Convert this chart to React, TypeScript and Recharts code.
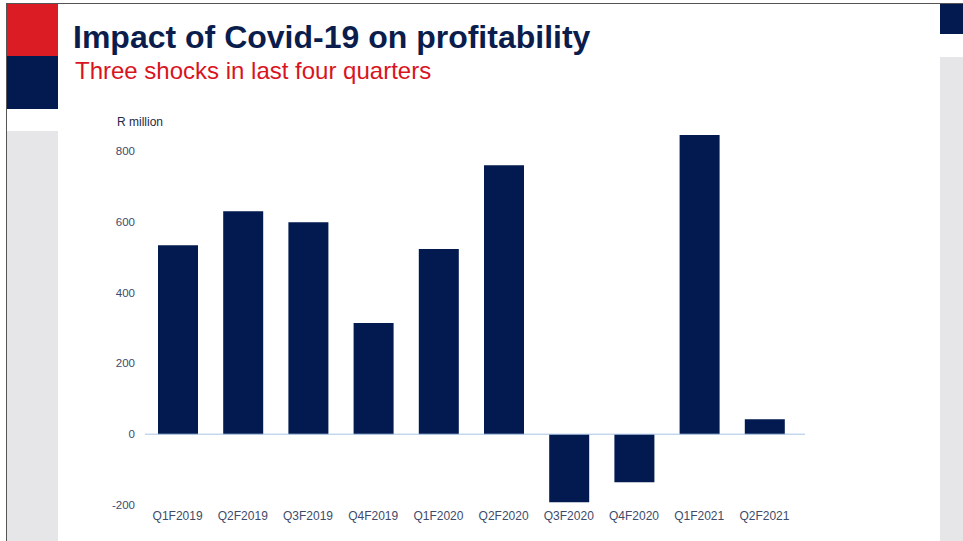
import React from "react";
import { BarChart, Bar, XAxis, YAxis, ReferenceLine } from "recharts";

const quarters = [
  "Q1F2019",
  "Q2F2019",
  "Q3F2019",
  "Q4F2019",
  "Q1F2020",
  "Q2F2020",
  "Q3F2020",
  "Q4F2020",
  "Q1F2021",
  "Q2F2021",
];
const profit = [534, 630, 599, 314, 523, 760, -192, -136, 845, 42];
const yTicks = [-200, 0, 200, 400, 600, 800];

const data = quarters.map((q, i) => ({ q, value: profit[i] }));

const NAVY = "#021a4f";
const FONT = "'Liberation Sans', Arial, sans-serif";

export default function App() {
  return (
    <div
      style={{
        position: "absolute",
        left: 0,
        top: 0,
        width: 963,
        height: 541,
        background: "#fff",
        overflow: "hidden",
        fontFamily: FONT,
      }}
    >
      {/* slide frame */}
      <div style={{ position: "absolute", left: 6, top: 3, width: 957, height: 1, background: "#555" }} />
      <div style={{ position: "absolute", left: 6, top: 3, width: 1, height: 538, background: "#555" }} />
      <div style={{ position: "absolute", left: 7, top: 4, width: 51, height: 52, background: "#dc1c24" }} />
      <div style={{ position: "absolute", left: 7, top: 56, width: 51, height: 53, background: NAVY }} />
      <div style={{ position: "absolute", left: 7, top: 131, width: 51, height: 410, background: "#e6e6e9" }} />
      <div style={{ position: "absolute", left: 940, top: 4, width: 23, height: 30, background: NAVY }} />
      <div style={{ position: "absolute", left: 940, top: 57, width: 23, height: 484, background: "#e6e6e9" }} />

      <div
        style={{
          position: "absolute",
          left: 73,
          top: 21,
          fontSize: 32,
          lineHeight: 1,
          fontWeight: "bold",
          color: "#0b1d4d",
          whiteSpace: "nowrap",
        }}
      >
        Impact of Covid-19 on profitability
      </div>
      <div
        style={{
          position: "absolute",
          left: 75,
          top: 59,
          fontSize: 24,
          lineHeight: 1,
          color: "#d9141e",
          whiteSpace: "nowrap",
        }}
      >
        Three shocks in last four quarters
      </div>
      <div
        style={{
          position: "absolute",
          left: 117,
          top: 115,
          fontSize: 12,
          color: "#1f2a44",
          whiteSpace: "nowrap",
        }}
      >
        R million
      </div>

      <div style={{ position: "absolute", left: 0, top: 0 }}>
        <BarChart
          width={963}
          height={541}
          data={data}
          margin={{ top: 115.6, right: 158, bottom: 6, left: 105 }}
        >
          <XAxis
            dataKey="q"
            axisLine={false}
            tickLine={false}
            tickSize={0}
            tickMargin={6}
            height={30}
            interval={0}
            padding={{ left: 0, right: 8 }}
            tick={{ fontSize: 12, fill: "#3d4b6b", fontFamily: FONT }}
          />
          <YAxis
            domain={[-200, 900]}
            ticks={yTicks}
            axisLine={false}
            tickLine={false}
            tickSize={0}
            tickMargin={10}
            width={40}
            tick={{ fontSize: 11.5, fill: "#3d4b6b", fontFamily: FONT }}
          />
          <ReferenceLine y={0} stroke="#a9c4e4" strokeWidth={1} />
          <Bar dataKey="value" fill={NAVY} barSize={40} isAnimationActive={false} />
        </BarChart>
      </div>
    </div>
  );
}
